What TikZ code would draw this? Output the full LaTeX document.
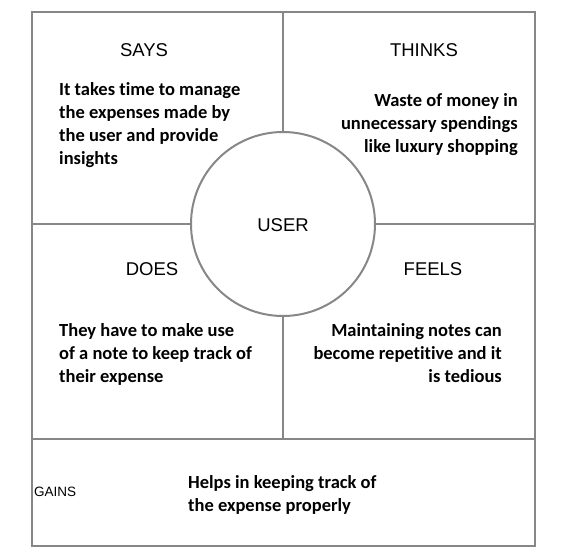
\documentclass[tikz,border=0pt]{standalone}
\usepackage{fontspec}
\setmainfont{Liberation Sans}
\newfontfamily\bodyfont[Ligatures=NoCommon]{Carlito}
\definecolor{linegray}{HTML}{878787}
\begin{document}
\begin{tikzpicture}[x=1pt,y=-1pt,
  frame/.style={draw=linegray,line width=2pt},
  head/.style={font=\fontsize{18.5}{22}\selectfont, inner sep=0pt},
  body/.style={font=\bodyfont\bfseries\fontsize{18.5}{23}\selectfont, inner sep=0pt}]
\useasboundingbox (0,0) rectangle (562,559);
\draw[frame] (32,12) rectangle (535,546);
\draw[frame] (32,224) -- (535,224);
\draw[frame] (283,12) -- (283,439);
\draw[frame] (32,439) -- (535,439);
\node[frame, circle, fill=white, minimum size=184pt, inner sep=0pt] (user) at (283,224) {};
\node[head] (usertxt) at (283,225) {USER};
\node[head] (says) at (144,50) {SAYS};
\node[head] (thinks) at (424,50) {THINKS};
\node[head] (does) at (152,269) {DOES};
\node[head] (feels) at (433,269) {FEELS};
\node[font=\fontsize{13.5}{16}\selectfont, inner sep=0pt, anchor=west] (gains) at (34,492) {GAINS};
\node[body, align=left, anchor=north west] (saysb) at (59,82.5) {It takes time to manage\\the expenses made by\\the user and provide\\insights};
\node[body, align=right, anchor=north east] (thinksb) at (518,93.5) {Waste of money in\\unnecessary spendings\\like luxury shopping};
\node[body, align=left, anchor=north west] (doesb) at (59,323.5) {They have to make use\\of a note to keep track of\\their expense};
\node[body, align=right, anchor=north east] (feelsb) at (502,323.5) {Maintaining notes can\\become repetitive and it\\is tedious};
\node[body, align=left, anchor=north west] (gainsb) at (188,475.5) {Helps in keeping track of\\the expense properly};
\end{tikzpicture}
\end{document}
